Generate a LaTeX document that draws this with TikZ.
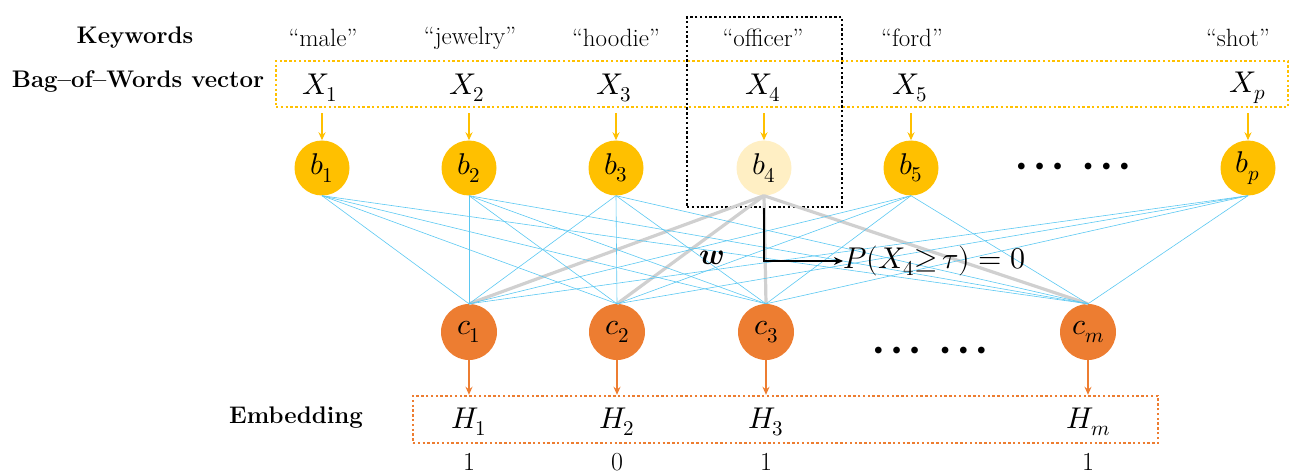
\documentclass[tikz,border=0pt]{standalone}
\usepackage{fontspec}
\usepackage{unicode-math}
\setmathfont{Latin Modern Math}
\usetikzlibrary{arrows.meta}
\definecolor{gold}{HTML}{FFC000}
\definecolor{pale}{HTML}{FFEFC4}
\definecolor{orng}{HTML}{ED7D31}
\definecolor{sky}{HTML}{5BC8F2}
\definecolor{lgray}{HTML}{D0D0D0}
\newcommand{\mydots}{\textbullet\kern-3.5pt\textbullet\kern-3.5pt\textbullet\kern9pt\textbullet\kern-3.5pt\textbullet\kern-3.5pt\textbullet}
\begin{document}
\begin{tikzpicture}[x=1pt,y=-1pt,
  lbl/.style={font=\fontsize{24}{28}\selectfont\bfseries, inner sep=0},
  kw/.style={font=\fontsize{25}{28}\selectfont, inner sep=0},
  vec/.style={font=\fontsize{30}{34}\selectfont, inner sep=0},
  num/.style={font=\fontsize{26}{30}\selectfont, inner sep=0},
  bnode/.style={circle, fill=gold, minimum size=55pt, inner sep=0, font=\fontsize{30}{34}\selectfont},
  cnode/.style={circle, fill=orng, minimum size=56pt, inner sep=0, font=\fontsize{30}{34}\selectfont},
  dotsty/.style={font=\fontsize{30}{34}\selectfont, inner sep=0},
  dotbox/.style={line width=2.4pt, dash pattern=on 2.4pt off 2.4pt, inner sep=0},
  yarr/.style={draw=gold, line width=2pt, -{Stealth[length=8pt,width=7pt]}},
  oarr/.style={draw=orng, line width=2pt, -{Stealth[length=8pt,width=7pt]}},
  skyline/.style={draw=sky, line width=0.6pt},
  grayline/.style={draw=lgray, line width=3.2pt},
]
\useasboundingbox (0,0) rectangle (1291,476);

% labels
\node[lbl] (kwl) at (135,38) {Keywords};
\node[lbl] (bowl) at (138,82) {Bag--of--Words vector};
\node[lbl] (embl) at (296,418) {Embedding};

% keywords
\node[kw] (k1) at (323,38) {``male''};
\node[kw] (k2) at (470,38) {``jewelry''};
\node[kw] (k3) at (616,38) {``hoodie''};
\node[kw] (k4) at (763,38) {``officer''};
\node[kw] (k5) at (912,38) {``ford''};
\node[kw] (kp) at (1238,38) {``shot''};

% boxes
\node[dotbox, draw=gold, minimum width=1012pt, minimum height=46pt] (bowbox) at (782,84) {};
\node[dotbox, draw=black, minimum width=155pt, minimum height=190pt] (selbox) at (764.5,112) {};
\node[dotbox, draw=orng, minimum width=745pt, minimum height=47pt] (hbox) at (785.5,419.5) {};

% X vector
\node[vec] (X1) at (320,88) {$X_1$};
\node[vec] (X2) at (467,88) {$X_2$};
\node[vec] (X3) at (614,88) {$X_3$};
\node[vec] (X4) at (763,88) {$X_4$};
\node[vec] (X5) at (910,88) {$X_5$};
\node[vec] (Xp) at (1248,88) {$X_p$};

% b nodes
\node[bnode] (b1) at (322,168) {$b_1$};
\node[bnode] (b2) at (469,168) {$b_2$};
\node[bnode] (b3) at (616,168) {$b_3$};
\node[bnode, fill=pale] (b4) at (764,168) {$b_4$};
\node[bnode] (b5) at (911,168) {$b_5$};
\node[bnode] (bp) at (1248,168) {$b_p$};
\node[dotsty] (bdots) at (1073,169) {\mydots};

% c nodes
\node[cnode] (c1) at (469,332) {$c_1$};
\node[cnode] (c2) at (617,332) {$c_2$};
\node[cnode] (c3) at (766,332) {$c_3$};
\node[cnode] (cm) at (1088,332) {$c_m$};
\node[dotsty] (cdots) at (930,353) {\mydots};

% H
\node[vec] (H1) at (469,422) {$H_1$};
\node[vec] (H2) at (617,422) {$H_2$};
\node[vec] (H3) at (766,422) {$H_3$};
\node[vec] (Hm) at (1088,422) {$H_m$};
\node[num] (n1) at (469,462) {1};
\node[num] (n2) at (617,462) {0};
\node[num] (n3) at (766,462) {1};
\node[num] (nm) at (1088,462) {1};

% connections
\foreach \c in {c1,c2,c3,cm}
  \draw[grayline] (b4.south) -- (\c.north);
\foreach \b in {b1,b2,b3,b5,bp}
  \foreach \c in {c1,c2,c3,cm}
    \draw[skyline] (\b.south) -- (\c.north);

% arrows X -> b
\foreach \b in {b1,b2,b3,b4,b5,bp}
  \draw[yarr, shorten <=5pt] (\b.north |- bowbox.south) -- (\b.north);
% arrows c -> H
\foreach \c in {c1,c2,c3,cm}
  \draw[oarr] (\c.south) -- (\c.south |- hbox.north);

% probability
\node[vec, anchor=west] (prob) at (843,261) {$P(X_4{\geq}\,\tau)=0$};
\node[vec] (wlab) at (712,258) {$\symbfit{w}$};
\draw[line width=2pt, -{Stealth[length=9pt,width=8pt]}] (b4.south |- selbox.south) |- (prob.west);
\end{tikzpicture}
\end{document}
